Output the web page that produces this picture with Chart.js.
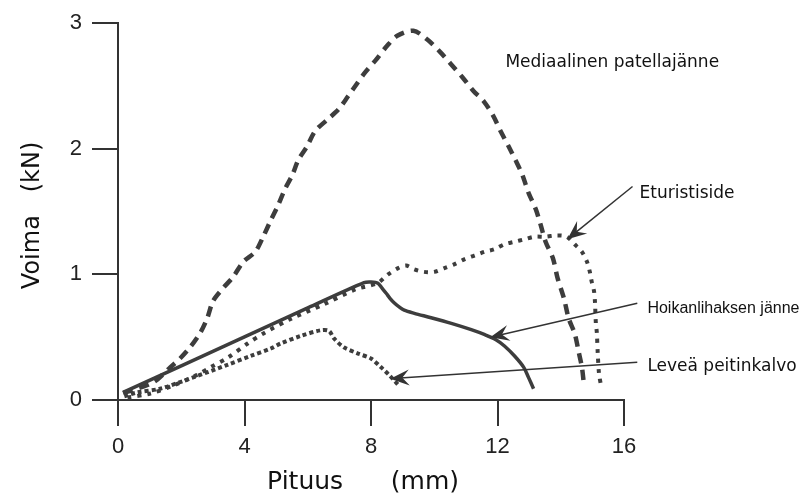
<!DOCTYPE html>
<html>
<head>
<meta charset="utf-8">
<script src="https://cdn.jsdelivr.net/npm/chart.js@4.4.1/dist/chart.umd.min.js"></script>
<style>
html,body{margin:0;padding:0;background:#fff;}
#wrap{width:804px;height:498px;}
</style>
</head>
<body>
<div id="wrap"><canvas id="c" width="804" height="498"></canvas></div>
<script>
// Mediaalinen patellajänne (dashed)
const medX = [0.16,1.11,1.65,1.96,2.28,2.59,2.82,3.01,3.32,3.64,3.96,4.34,4.59,4.81,5.06,5.28,5.51,5.70,5.98,6.23,6.61,6.96,7.28,7.56,7.82,8.13,8.51,8.83,9.34,9.78,10.19,10.51,10.89,11.24,11.56,11.87,12.10,12.35,12.57,12.79,12.98,13.21,13.37,13.52,13.75,13.90,14.10,14.25,14.44,14.57,14.67,14.73];
const medY = [0.055,0.14,0.26,0.33,0.42,0.53,0.65,0.79,0.89,0.98,1.10,1.18,1.30,1.42,1.55,1.68,1.79,1.91,2.02,2.14,2.23,2.31,2.42,2.52,2.61,2.70,2.82,2.90,2.94,2.87,2.77,2.68,2.57,2.46,2.38,2.26,2.14,2.02,1.91,1.79,1.65,1.52,1.39,1.26,1.13,0.97,0.81,0.65,0.53,0.38,0.26,0.13];
// Hoikanlihaksen jänne (solid)
const hoiX = [0.16,2.0,4.0,6.0,7.78,8.0,8.22,8.35,8.48,8.6,8.73,8.9,9.05,9.37,9.9,10.54,11.17,11.6,11.95,12.22,12.54,12.83,12.98,13.14];
const hoiY = [0.06,0.272,0.503,0.734,0.935,0.94,0.93,0.89,0.85,0.81,0.775,0.74,0.715,0.69,0.655,0.61,0.56,0.52,0.48,0.43,0.35,0.26,0.18,0.09];
// Eturistiside (round dots)
const etuX = [0.3,1.0,1.8,2.5,2.92,3.49,4.1,4.6,5.5,6.5,7.5,8.2,8.54,8.86,9.11,9.37,9.68,10.0,10.32,10.63,10.95,11.27,11.59,11.9,12.22,12.54,12.86,13.17,13.49,13.87,14.19,14.44,14.67,14.83,14.92,14.98,15.05,15.08,15.11,15.14,15.17,15.21,15.27];
const etuY = [0.02,0.05,0.12,0.2,0.26,0.34,0.45,0.53,0.65,0.76,0.88,0.93,1.0,1.05,1.07,1.04,1.02,1.02,1.05,1.08,1.12,1.15,1.18,1.20,1.24,1.26,1.28,1.30,1.30,1.31,1.30,1.24,1.18,1.10,1.02,0.94,0.87,0.79,0.61,0.54,0.37,0.21,0.12];
// Leveä peitinkalvo (square dots)
const levX = [0.2,0.6,1.33,2.38,3.46,4.19,4.83,5.14,5.78,6.41,6.67,6.83,7.14,7.59,8.0,8.32,8.57,8.86];
const levY = [0.03,0.06,0.09,0.18,0.28,0.35,0.41,0.45,0.51,0.555,0.55,0.49,0.42,0.37,0.33,0.26,0.20,0.12];

// Ticks
const xTicks = [0,4,8,12,16];
const yTicks = [0,1,2,3];

// Annotation labels (text, x, y in data units) and arrows (start -> tip, data units)
const labelTexts = ["Mediaalinen patellajänne","Eturistiside","Hoikanlihaksen jänne","Leveä peitinkalvo"];
const labelX = [12.25,16.49,16.74,16.74];
const labelY = [2.69,1.64,0.73,0.27];
const arrowFromX = [16.27,16.42,16.42];
const arrowFromY = [1.70,0.77,0.30];
const arrowToX = [14.21,11.77,8.61];
const arrowToY = [1.28,0.50,0.17];

const zip = (xs, ys) => xs.map((x, i) => ({x, y: ys[i]}));
const lineColor = '#3d3d3d';

const annoPlugin = {
  id: 'anno',
  afterDatasetsDraw(chart) {
    const ctx = chart.ctx, sx = chart.scales.x, sy = chart.scales.y;
    ctx.save();
    ctx.strokeStyle = '#333';
    ctx.fillStyle = '#333';
    ctx.lineWidth = 1.5;
    for (let i = 0; i < arrowFromX.length; i++) {
      const x0 = sx.getPixelForValue(arrowFromX[i]), y0 = sy.getPixelForValue(arrowFromY[i]);
      const x1 = sx.getPixelForValue(arrowToX[i]), y1 = sy.getPixelForValue(arrowToY[i]);
      const dx = x1 - x0, dy = y1 - y0, L = Math.hypot(dx, dy);
      const ux = dx / L, uy = dy / L, nx = -uy, ny = ux;
      ctx.beginPath();
      ctx.moveTo(x0, y0);
      ctx.lineTo(x1 - ux * 10, y1 - uy * 10);
      ctx.stroke();
      const hl = 19, hw = 8, notch = 12;
      ctx.beginPath();
      ctx.moveTo(x1, y1);
      ctx.lineTo(x1 - ux * hl + nx * hw, y1 - uy * hl + ny * hw);
      ctx.lineTo(x1 - ux * notch, y1 - uy * notch);
      ctx.lineTo(x1 - ux * hl - nx * hw, y1 - uy * hl - ny * hw);
      ctx.closePath();
      ctx.fill();
    }
    ctx.fillStyle = '#111';
    ctx.textBaseline = 'middle';
    ctx.textAlign = 'left';
    const fonts = ['17px "DejaVu Sans"','17px "DejaVu Sans"','16px "Liberation Sans", Arial','17px "DejaVu Sans"'];
    for (let i = 0; i < labelTexts.length; i++) {
      ctx.font = fonts[i];
      ctx.fillText(labelTexts[i], sx.getPixelForValue(labelX[i]), sy.getPixelForValue(labelY[i]));
    }
    ctx.restore();
  }
};

new Chart(document.getElementById('c'), {
  type: 'scatter',
  data: {
    datasets: [
      {label:'Hoikanlihaksen jänne', data: zip(hoiX, hoiY), showLine:true, borderColor:lineColor, borderWidth:3.5, pointRadius:0, tension:0.3, clip:false},
      {label:'Mediaalinen patellajänne', data: zip(medX, medY), showLine:true, borderColor:lineColor, borderWidth:4.5, borderDash:[10,7], pointRadius:0, tension:0.3, clip:false},
      {label:'Eturistiside', data: zip(etuX, etuY), showLine:true, borderColor:lineColor, borderWidth:4, borderDash:[4,6], pointRadius:0, tension:0.3, clip:false},
      {label:'Leveä peitinkalvo', data: zip(levX, levY), showLine:true, borderColor:lineColor, borderWidth:4, borderDash:[4,3], pointRadius:0, tension:0.3, clip:false}
    ]
  },
  options: {
    responsive:false,
    animation:false,
    events:[],
    layout:{padding:{top:19,right:180,bottom:0,left:0}},
    plugins:{legend:{display:false}, tooltip:{enabled:false}},
    scales:{
      x:{
        type:'linear', min:0, max:16,
        afterBuildTicks: s => { s.ticks = xTicks.map(v => ({value:v})); },
        afterFit: s => { s.height = 98; },
        ticks:{font:{family:'"Liberation Sans", Arial', size:22}, color:'#222', padding:8, maxRotation:0},
        grid:{drawOnChartArea:false, drawTicks:true, tickLength:26, color:'#333', lineWidth:2},
        border:{display:true, color:'#333', width:2},
        title:{display:true, text:'Pituus      (mm)  ', font:{family:'"DejaVu Sans"', size:25}, color:'#111', padding:{top:0,bottom:1}}
      },
      y:{
        type:'linear', min:0, max:3,
        afterBuildTicks: s => { s.ticks = yTicks.map(v => ({value:v})); },
        afterFit: s => { s.width = 118; },
        ticks:{font:{family:'"Liberation Sans", Arial', size:22}, color:'#222', padding:10},
        grid:{drawOnChartArea:false, drawTicks:true, tickLength:26, color:'#333', lineWidth:2},
        border:{display:true, color:'#333', width:2},
        title:{display:true, text:'Voima   (kN) ', font:{family:'"DejaVu Sans"', size:24}, color:'#111', padding:{top:18,bottom:0}}
      }
    }
  },
  plugins:[annoPlugin]
});
</script>
</body>
</html>
